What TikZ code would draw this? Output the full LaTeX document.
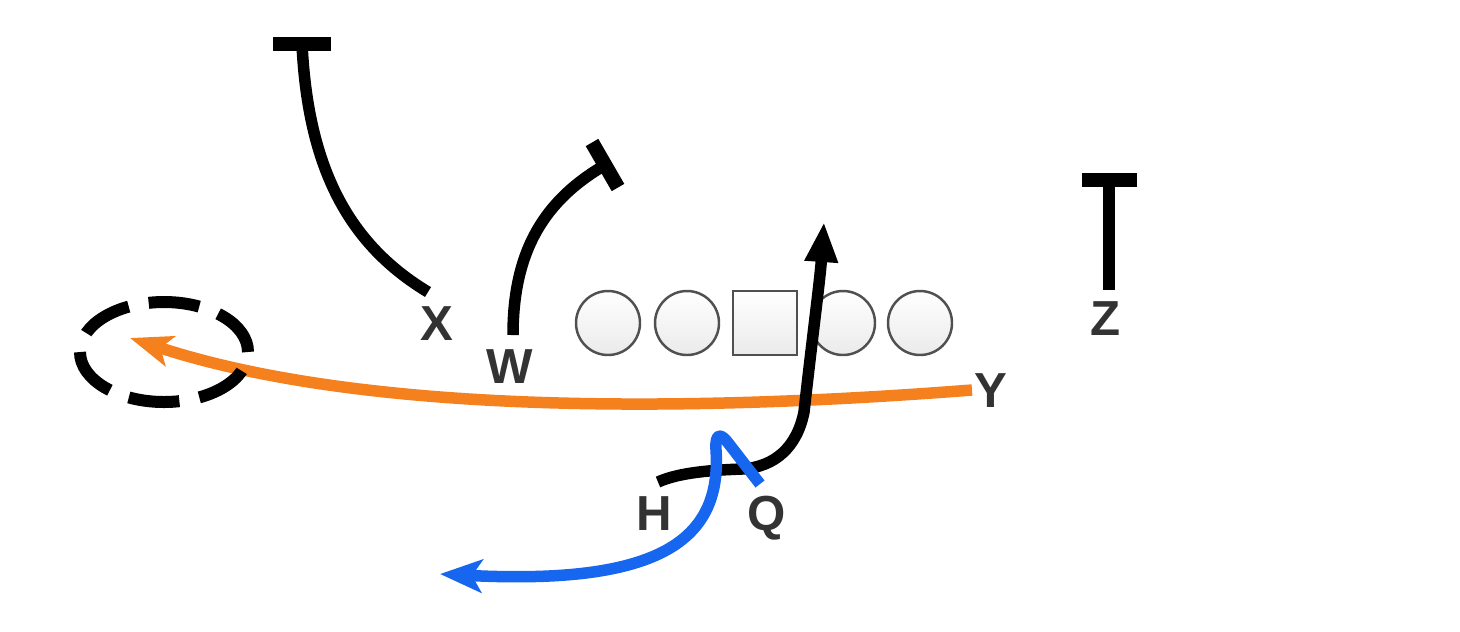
\documentclass[tikz,border=0pt]{standalone}
\usepackage{fontspec}
\setmainfont{Liberation Sans}
\usetikzlibrary{arrows.meta}
\definecolor{routeorange}{RGB}{245,128,30}
\definecolor{routeblue}{RGB}{22,102,240}
\definecolor{labelgray}{RGB}{51,51,51}
\definecolor{linegray}{RGB}{80,80,80}
\begin{document}
\begin{tikzpicture}[x=0.1mm,y=-0.1mm,
  route/.style={line width=1.15mm},
  tbar/.style={line width=1.45mm},
  player/.style={font=\bfseries\fontsize{14}{16}\selectfont, text=labelgray, inner sep=0pt, anchor=base},
  lineman/.style={draw=linegray, line width=0.7pt, top color=white, bottom color=black!8, minimum size=6.4mm, inner sep=0pt},
  zone/.style={line width=1.2mm, dash pattern=on 5.1mm off 2.03mm},
]
\useasboundingbox (0,0) rectangle (1460,631);

% offensive line
\node[lineman, circle] (lt) at (608,323) {};
\node[lineman, circle] (lg) at (687,323) {};
\node[lineman, rectangle] (c) at (765,323) {};
\node[lineman, circle] (rg) at (843,323) {};
\node[lineman, circle] (rt) at (920,323) {};

% player labels
\node[player] (X) at (437,340) {X};
\node[player] (W) at (510,383) {W};
\node[player] (H) at (654,530) {H};
\node[player] (Q) at (767,530) {Q};
\node[player] (Y) at (991,407) {Y};
\node[player] (Z) at (1106,335) {Z};

% route coordinates
\coordinate (xs) at (428,292);
\coordinate (xe) at (302,44);
\coordinate (xb1) at (273,44);
\coordinate (xb2) at (331,44);
\coordinate (ws) at (513,335);
\coordinate (we) at (605,165);
\coordinate (wb1) at (592,142.5);
\coordinate (wb2) at (618,187.5);
\coordinate (zs) at (1109,290);
\coordinate (ze) at (1109,180);
\coordinate (zb1) at (1082,180);
\coordinate (zb2) at (1137,180);
\coordinate (ys) at (972,390);
\coordinate (ye) at (130,338);
\coordinate (zonec) at (164,352);
\coordinate (hs) at (658,482);
\coordinate (he) at (824,222);
\coordinate (qs) at (760,484);
\coordinate (qe) at (440,574);

% X route
\draw[route] (xs) .. controls (350,245) and (308,170) .. (xe);
\draw[tbar] (xb1) -- (xb2);
% W route
\draw[route] (ws) .. controls (513,250) and (545,200) .. (we);
\draw[tbar] (wb1) -- (wb2);
% Z route
\draw[route] (zs) -- (ze);
\draw[tbar] (zb1) -- (zb2);

% Y route
\draw[route, routeorange, -{Stealth[length=4.2mm,width=3.1mm,inset=1mm]}]
  (ys) .. controls (650,415) and (350,410) .. (ye);
% zone
\draw[zone] (zonec) ellipse [x radius=8.4mm, y radius=5mm];

% H route
\draw[route, -{Triangle[length=4mm,width=3.1mm]}]
  (hs) .. controls (680,472) and (715,470) .. (742,469)
  .. controls (775,467) and (797,447) .. (804,412)
  .. controls (812,340) and (820,280) .. (he);

% Q route
\draw[route, routeblue, line join=round, -{Stealth[length=4.2mm,width=3.3mm,inset=1mm]}]
  (qs) -- (729,444) .. controls (721,433) and (715,432) .. (716,450)
  .. controls (722,540) and (660,585) .. (qe);
\end{tikzpicture}
\end{document}
